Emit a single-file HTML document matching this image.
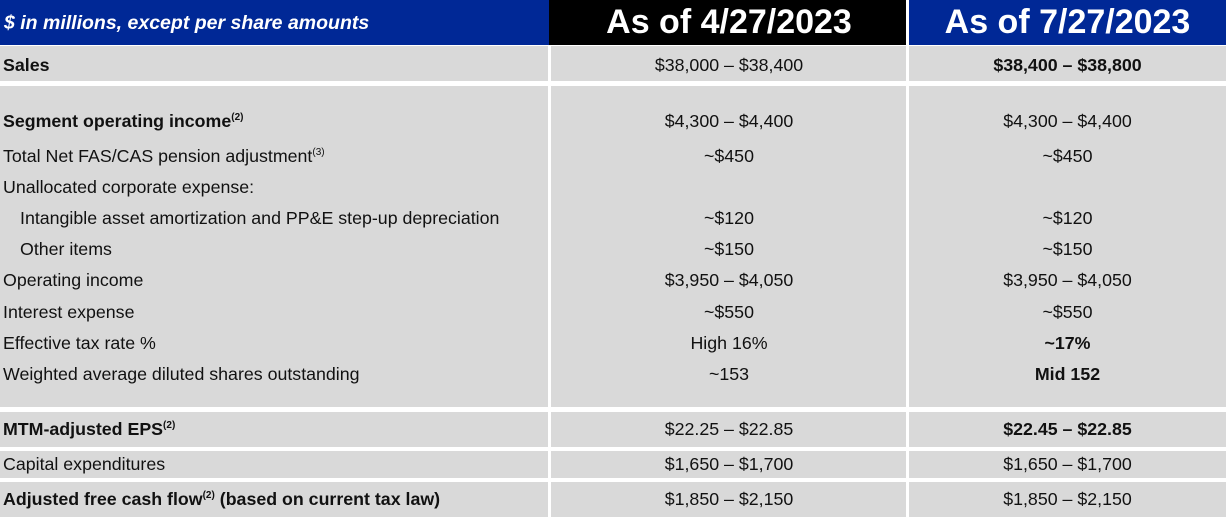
<!DOCTYPE html>
<html><head><meta charset="utf-8"><style>
body{margin:0;width:1226px;height:520px;background:#fff;position:relative;overflow:hidden;font-family:"Liberation Sans",Arial,sans-serif;color:#111;}
.b{position:absolute;}
.g{background:#d9d9d9;}
.t{position:absolute;font-size:17.8px;white-space:nowrap;line-height:20px;}
.c2{left:551px;width:356px;text-align:center;}
.c3{left:909px;width:317px;text-align:center;}
.bd{font-weight:bold;}
sup{font-size:10px;vertical-align:7px;line-height:0;}
</style></head><body>
<div class="b" style="left:0;top:0;width:549px;height:45px;background:#002896"></div>
<div class="b" style="left:549px;top:0;width:357px;height:45px;background:#000"></div>
<div class="b" style="left:909px;top:0;width:317px;height:45px;background:#002896"></div>
<div class="t" style="left:4px;top:12px;color:#fff;font-weight:bold;font-style:italic;font-size:19.5px;line-height:22px">$ in millions, except per share amounts</div>
<div class="t c2" style="top:3px;color:#fff;font-weight:bold;font-size:34px;line-height:38px">As of 4/27/2023</div>
<div class="t c3" style="top:3px;color:#fff;font-weight:bold;font-size:34px;line-height:38px">As of 7/27/2023</div>

<div class="b g" style="left:0;top:46px;width:548px;height:35px"></div>
<div class="b g" style="left:551px;top:46px;width:355px;height:35px"></div>
<div class="b g" style="left:909px;top:46px;width:317px;height:35px"></div>

<div class="b g" style="left:0;top:86px;width:548px;height:321px"></div>
<div class="b g" style="left:551px;top:86px;width:355px;height:321px"></div>
<div class="b g" style="left:909px;top:86px;width:317px;height:321px"></div>

<div class="b g" style="left:0;top:412px;width:548px;height:35px"></div>
<div class="b g" style="left:551px;top:412px;width:355px;height:35px"></div>
<div class="b g" style="left:909px;top:412px;width:317px;height:35px"></div>

<div class="b g" style="left:0;top:451px;width:548px;height:27px"></div>
<div class="b g" style="left:551px;top:451px;width:355px;height:27px"></div>
<div class="b g" style="left:909px;top:451px;width:317px;height:27px"></div>

<div class="b g" style="left:0;top:482px;width:548px;height:35px"></div>
<div class="b g" style="left:551px;top:482px;width:355px;height:35px"></div>
<div class="b g" style="left:909px;top:482px;width:317px;height:35px"></div>

<div class="t bd" style="left:3px;top:55px">Sales</div>
<div class="t c2" style="top:55px">$38,000 – $38,400</div>
<div class="t c3 bd" style="top:55px">$38,400 – $38,800</div>

<div class="t bd" style="left:3px;top:111px">Segment operating income<sup>(2)</sup></div>
<div class="t c2" style="top:111px">$4,300 – $4,400</div>
<div class="t c3" style="top:111px">$4,300 – $4,400</div>

<div class="t" style="left:3px;top:146px">Total Net FAS/CAS pension adjustment<sup>(3)</sup></div>
<div class="t c2" style="top:146px">~$450</div>
<div class="t c3" style="top:146px">~$450</div>

<div class="t" style="left:3px;top:177px">Unallocated corporate expense:</div>

<div class="t" style="left:20px;top:208px">Intangible asset amortization and PP&amp;E step-up depreciation</div>
<div class="t c2" style="top:208px">~$120</div>
<div class="t c3" style="top:208px">~$120</div>

<div class="t" style="left:20px;top:239px">Other items</div>
<div class="t c2" style="top:239px">~$150</div>
<div class="t c3" style="top:239px">~$150</div>

<div class="t" style="left:3px;top:270px">Operating income</div>
<div class="t c2" style="top:270px">$3,950 – $4,050</div>
<div class="t c3" style="top:270px">$3,950 – $4,050</div>

<div class="t" style="left:3px;top:302px">Interest expense</div>
<div class="t c2" style="top:302px">~$550</div>
<div class="t c3" style="top:302px">~$550</div>

<div class="t" style="left:3px;top:333px">Effective tax rate %</div>
<div class="t c2" style="top:333px">High 16%</div>
<div class="t c3 bd" style="top:333px">~17%</div>

<div class="t" style="left:3px;top:364px">Weighted average diluted shares outstanding</div>
<div class="t c2" style="top:364px">~153</div>
<div class="t c3 bd" style="top:364px">Mid 152</div>

<div class="t bd" style="left:3px;top:419px">MTM-adjusted EPS<sup>(2)</sup></div>
<div class="t c2" style="top:419px">$22.25 – $22.85</div>
<div class="t c3 bd" style="top:419px">$22.45 – $22.85</div>

<div class="t" style="left:3px;top:454px">Capital expenditures</div>
<div class="t c2" style="top:454px">$1,650 – $1,700</div>
<div class="t c3" style="top:454px">$1,650 – $1,700</div>

<div class="t bd" style="left:3px;top:489px">Adjusted free cash flow<sup>(2)</sup> (based on current tax law)</div>
<div class="t c2" style="top:489px">$1,850 – $2,150</div>
<div class="t c3" style="top:489px">$1,850 – $2,150</div>
</body></html>
